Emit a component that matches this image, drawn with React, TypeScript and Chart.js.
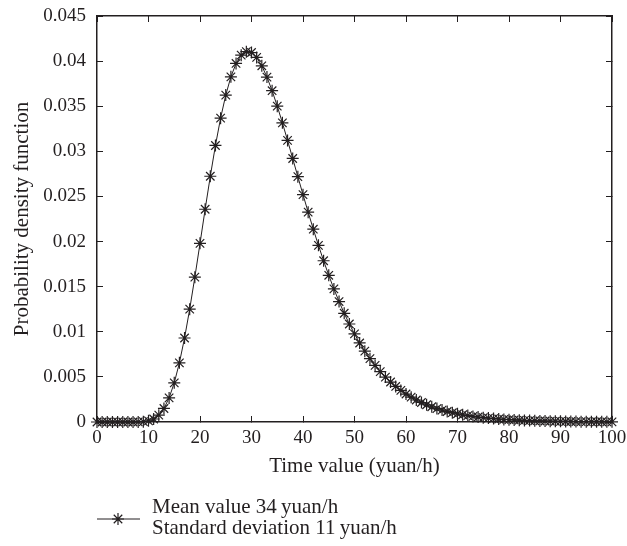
import React, { useEffect, useRef } from 'react';
import { Chart, registerables } from 'chart.js';

Chart.register(...registerables);

// x positions (yuan/h)
const timeValues = [
  0, 1, 2, 3, 4, 5, 6, 7, 8, 9, 10, 11, 12, 13, 14, 15, 16, 17, 18, 19, 20,
  21, 22, 23, 24, 25, 26, 27, 28, 29, 30, 31, 32, 33, 34, 35, 36, 37, 38, 39, 40,
  41, 42, 43, 44, 45, 46, 47, 48, 49, 50, 51, 52, 53, 54, 55, 56, 57, 58, 59, 60,
  61, 62, 63, 64, 65, 66, 67, 68, 69, 70, 71, 72, 73, 74, 75, 76, 77, 78, 79, 80,
  81, 82, 83, 84, 85, 86, 87, 88, 89, 90, 91, 92, 93, 94, 95, 96, 97, 98, 99, 100,
];

// probability density
const densityValues = [
  0, 0, 0, 0, 0, 0, 0, 0.000001, 0.000009, 0.000038, 0.000125,
  0.000334, 0.000756, 0.0015, 0.00267, 0.00434, 0.00656, 0.00931, 0.01251, 0.01605, 0.0198,
  0.02358, 0.02724, 0.03065, 0.03368, 0.03623, 0.03826, 0.03974, 0.04066, 0.04105, 0.04095,
  0.04041, 0.03948, 0.03823, 0.03672, 0.03501, 0.03316, 0.03121, 0.02921, 0.02719, 0.0252,
  0.02326, 0.02137, 0.01958, 0.01787, 0.01626, 0.01475, 0.01335, 0.01205, 0.01086, 0.00976,
  0.00876, 0.00785, 0.00702, 0.00627, 0.00559, 0.00498, 0.00443, 0.00394, 0.0035, 0.0031,
  0.00275, 0.00244, 0.00216, 0.00191, 0.00169, 0.00149, 0.00132, 0.00116, 0.00103, 0.00091,
  0.0008, 0.00071, 0.00062, 0.00055, 0.00048, 0.00043, 0.00038, 0.00033, 0.00029, 0.00026,
  0.00023, 0.0002, 0.00018, 0.00016, 0.00014, 0.00012, 0.00011, 0.00009, 0.00008, 0.00007,
  0.00006, 0.00006, 0.00005, 0.00004, 0.00004, 0.00003, 0.00003, 0.00003, 0.00002, 0.00002,
];

const xTickValues = [0, 10, 20, 30, 40, 50, 60, 70, 80, 90, 100];
const yTickLabels = ['0', '0.005', '0.01', '0.015', '0.02', '0.025', '0.03', '0.035', '0.04', '0.045'];

const xTitle = 'Time value (yuan/h)';
const yTitle = 'Probability density function';
const legendLines = ['Mean value 34\u2009yuan/h', 'Standard deviation 11\u2009yuan/h'];

const FONT = '"Liberation Serif", "Times New Roman", serif';
const INK = '#231f20';

// desired plot frame inside the 627x546 canvas
const FRAME = { left: 97, top: 16, right: 612, bottom: 422 };

const legendPlugin = {
  id: 'twoLineLegend',
  afterDraw(chart: any) {
    const ctx = chart.ctx;
    const left = chart.chartArea.left;
    const yMid = chart.height - 27;
    ctx.save();
    ctx.strokeStyle = INK;
    ctx.lineWidth = 1;
    ctx.beginPath();
    ctx.moveTo(left, yMid);
    ctx.lineTo(left + 43, yMid);
    ctx.stroke();
    const cx = left + 21;
    const r = 6;
    ctx.lineWidth = 1.2;
    ctx.beginPath();
    ctx.moveTo(cx - r, yMid);
    ctx.lineTo(cx + r, yMid);
    ctx.moveTo(cx, yMid - r);
    ctx.lineTo(cx, yMid + r);
    const d = r * Math.SQRT1_2;
    ctx.moveTo(cx - d, yMid - d);
    ctx.lineTo(cx + d, yMid + d);
    ctx.moveTo(cx - d, yMid + d);
    ctx.lineTo(cx + d, yMid - d);
    ctx.stroke();
    ctx.fillStyle = INK;
    ctx.font = `21px ${FONT}`;
    ctx.textBaseline = 'middle';
    ctx.textAlign = 'left';
    ctx.fillText(legendLines[0], left + 55, yMid - 12);
    ctx.fillText(legendLines[1], left + 55, yMid + 9);
    ctx.restore();
  },
};

const zeroPad = (s: any) => {
  s.paddingTop = 0;
  s.paddingBottom = 0;
  s.paddingLeft = 0;
  s.paddingRight = 0;
};

export default function App() {
  const canvasRef = useRef<HTMLCanvasElement | null>(null);

  useEffect(() => {
    const canvas = canvasRef.current;
    if (!canvas) return;
    const points = timeValues.map((x, i) => ({ x, y: densityValues[i] }));
    const gridCommon = {
      drawOnChartArea: false,
      drawTicks: true,
      tickLength: -6,
      color: INK,
      lineWidth: 1,
    };
    const borderCommon = { display: true, color: INK, width: 1.5 };
    const padding = { top: FRAME.top, right: 627 - FRAME.right, left: 0, bottom: 62 };
    const chart = new Chart(canvas, {
      type: 'line',
      data: {
        datasets: [
          {
            label: legendLines.join(' '),
            data: points,
            borderColor: INK,
            borderWidth: 1,
            pointStyle: 'star',
            pointRadius: 6,
            pointBorderWidth: 1.2,
            pointBorderColor: INK,
            pointBackgroundColor: INK,
            fill: false,
            tension: 0,
            clip: false,
          },
        ],
      },
      options: {
        responsive: false,
        animation: false,
        layout: { padding },
        plugins: {
          legend: { display: false },
          tooltip: { enabled: false },
        },
        scales: {
          x: {
            type: 'linear',
            position: 'bottom',
            min: 0,
            max: 100,
            afterBuildTicks: (s: any) => {
              s.ticks = xTickValues.map((v) => ({ value: v }));
            },
            ticks: {
              color: INK,
              font: { family: FONT, size: 19 },
              padding: 11,
              maxRotation: 0,
              autoSkip: false,
            },
            grid: gridCommon,
            border: borderCommon,
            title: {
              display: true,
              text: xTitle,
              color: INK,
              font: { family: FONT, size: 21 },
              padding: { top: 0, bottom: 5 },
            },
            afterFit: (s: any) => {
              s.height = 546 - FRAME.bottom - 62;
              zeroPad(s);
            },
          },
          xTop: {
            type: 'linear',
            position: 'top',
            min: 0,
            max: 100,
            afterBuildTicks: (s: any) => {
              s.ticks = xTickValues.map((v) => ({ value: v }));
            },
            ticks: { display: false },
            grid: gridCommon,
            border: borderCommon,
            afterFit: (s: any) => {
              s.height = 0;
              zeroPad(s);
            },
          },
          y: {
            type: 'linear',
            position: 'left',
            min: 0,
            max: 0.045,
            afterBuildTicks: (s: any) => {
              s.ticks = yTickLabels.map((t) => ({ value: Number(t) }));
            },
            ticks: {
              color: INK,
              font: { family: FONT, size: 19 },
              padding: 17,
              autoSkip: false,
              callback: (_v: any, i: number) => yTickLabels[i],
            },
            grid: gridCommon,
            border: borderCommon,
            title: {
              display: true,
              text: yTitle,
              color: INK,
              font: { family: FONT, size: 21 },
              padding: { top: 10, bottom: 0 },
            },
            afterFit: (s: any) => {
              s.width = FRAME.left;
              zeroPad(s);
            },
          },
          yRight: {
            type: 'linear',
            position: 'right',
            min: 0,
            max: 0.045,
            afterBuildTicks: (s: any) => {
              s.ticks = yTickLabels.map((t) => ({ value: Number(t) }));
            },
            ticks: { display: false },
            grid: gridCommon,
            border: borderCommon,
            afterFit: (s: any) => {
              s.width = 0;
              zeroPad(s);
            },
          },
        },
      },
      plugins: [legendPlugin],
    } as any);

    // nudge the layout padding so the plot frame lands where the reference has it
    const ca = chart.chartArea;
    const dTop = FRAME.top - ca.top;
    const dRight = ca.right - FRAME.right;
    const dLeft = FRAME.left - ca.left;
    const dBottom = ca.bottom - FRAME.bottom;
    if (dTop || dRight || dLeft || dBottom) {
      padding.top += dTop;
      padding.right += dRight;
      padding.left += dLeft;
      padding.bottom += dBottom;
      (chart.options as any).layout.padding = { ...padding };
      chart.update();
    }
    return () => chart.destroy();
  }, []);

  return (
    <div style={{ position: 'fixed', left: 0, top: 0, width: 627, height: 546, background: '#fff' }}>
      <canvas ref={canvasRef} width={627} height={546} />
    </div>
  );
}
